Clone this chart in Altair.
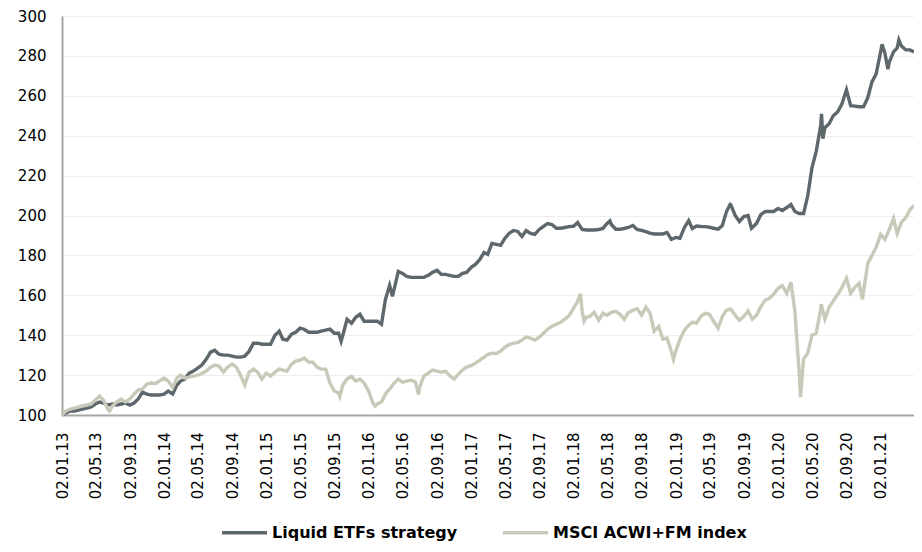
import altair as alt
import pandas as pd

# ---- series names / colours ----
series_names = ["Liquid ETFs strategy", "MSCI ACWI+FM index"]
series_colors = ["#5d676c", "#c8c9b9"]

strategy_2013 = [100, 101, 102, 102, 102.5, 103, 103.5, 104, 105.5, 106.5, 106, 105,
                 105.5, 105, 105.5, 106, 105, 106, 108, 111.5, 110.5, 110, 110, 110]
strategy_2014 = [110.5, 112, 110.5, 115, 117, 118, 121, 122, 123.5, 125, 128, 131.5,
                 132.5, 130.5, 130, 130, 129.5, 129, 129, 129.5, 132, 136, 136, 135.5]
strategy_2015 = [135.5, 135.5, 140, 142, 138, 137.5, 140.5, 141.5, 143.5, 143, 141.5, 141.5,
                 141.5, 142, 142.5, 143, 141, 141, 140, 148, 146, 149, 150.5, 147]
strategy_2016 = [147, 147, 147, 145.5, 158, 165, 163, 172, 171, 169.5, 169, 169,
                 169, 169, 170, 171.5, 172.5, 170.5, 170.5, 170, 169.5, 169.5, 171, 171.5]
strategy_2017 = [174, 175.5, 178, 181.5, 180.5, 186, 185.5, 185, 188.5, 191, 192.5, 192,
                 189.5, 192.5, 191, 190.5, 193, 194.5, 196, 195.5, 193.6, 193.6, 194, 194.4]
strategy_2018 = [194.6, 196.5, 193, 192.75, 192.75, 192.75, 193, 193.5, 196, 195.5, 193.1, 193.1,
                 193.5, 194, 195, 193, 192.5, 191.9, 191.2, 190.75, 190.75, 190.75, 191.5, 188]
strategy_2019 = [189, 188.6, 194, 197.4, 193.5, 194.75, 194.5, 194.4, 194.1, 193.6, 193.1, 195,
                 202, 205.5, 200, 197, 199.5, 200, 194, 196, 200.5, 202, 202, 202]
strategy_2020 = [203.5, 202.5, 204, 205.5, 202, 201, 201, 210, 224, 232, 245, 244,
                 246, 250, 252, 256, 263, 255, 254.8, 254.5, 254.5, 259, 267, 271]
strategy_2021 = [282, 281.5, 277, 282, 284, 285, 283, 283, 282]

msci_2013 = [100, 102, 103, 103.5, 104, 104.5, 105, 105.5, 107.5, 109.5, 107, 102.5,
             104.5, 106.5, 108, 106.5, 108, 110.5, 112.5, 113, 115.5, 116, 115.8, 117]
msci_2014 = [118.5, 117, 113.8, 118.5, 120, 118.5, 119, 119.5, 120, 120.8, 122, 124,
             125, 124.5, 121.5, 124, 125.5, 124, 120, 115, 121.5, 123, 121.5, 118]
msci_2015 = [121, 119.5, 121.5, 123, 122.5, 122, 125.5, 127, 127.5, 128.5, 126.5, 126.5,
             124, 123, 123, 116, 112, 111, 115, 118, 119.4, 117, 118, 116]
msci_2016 = [112, 106, 105.5, 106.5, 110.5, 113, 116, 118, 116.5, 117, 117.5, 116.5,
             114, 119.5, 121, 122.5, 122, 121.4, 122, 119.75, 118, 120.5, 122.5, 124]
msci_2017 = [124.75, 126, 127.5, 129, 130.3, 131, 130.8, 132, 134, 135.25, 136, 136.3,
             137.5, 139, 138.5, 137.6, 139, 141, 143, 144.5, 145.5, 146.5, 148, 149.75]
msci_2018 = [153.5, 157, 152, 149, 149.5, 151.5, 147.5, 151, 150, 151.5, 152, 150.5,
             148, 151.4, 152.5, 153.3, 150, 154, 151.1, 142, 144.4, 138, 138.6, 132]
msci_2019 = [132, 138, 142.5, 145, 146.5, 146.1, 149.5, 151, 150.5, 147, 143.5, 149.4,
             152.5, 153.1, 150, 147.5, 149.4, 152.2, 148, 150, 154.5, 157.5, 158.5, 160.5]
msci_2020 = [163.5, 164.8, 161, 166.5, 152, 122, 128, 131, 140, 141, 153, 148,
             154, 157.2, 160.5, 164, 168.5, 161, 164, 166, 162, 176, 180, 184]
msci_2021 = [190.5, 188, 193, 198.5, 191, 196.5, 199, 203, 205]

# ---- extra turning points ----
strategy_extra = [("2015-09-25", 137), ("2016-03-26", 159.5), ("2018-05-11", 197.3),
                  ("2019-07-14", 205.6), ("2019-09-28", 193.6), ("2020-06-04", 251),
                  ("2020-06-09", 238.5), ("2021-01-06", 285.8), ("2021-01-27", 273.4),
                  ("2021-03-07", 288)]
msci_extra = [("2013-06-21", 101.9), ("2015-09-20", 109.4), ("2016-01-24", 104.4),
              ("2016-06-27", 110.3), ("2018-01-26", 160.7), ("2018-02-08", 147),
              ("2018-12-24", 127.8), ("2020-03-21", 109), ("2020-06-03", 155.6),
              ("2020-10-28", 158)]

# ---- dates of the semi-monthly grid ----
grid_dates = []
for yr in range(2013, 2022):
    for mo in range(1, 13):
        if yr == 2021 and mo > 4:
            break
        grid_dates.append(f"{yr}-{mo:02d}-{'02' if (yr, mo) == (2013, 1) else '01'}")
        grid_dates.append(f"{yr}-{mo:02d}-16")
grid_dates.append("2021-04-30")

strategy_vals = (strategy_2013 + strategy_2014 + strategy_2015 + strategy_2016 + strategy_2017
                 + strategy_2018 + strategy_2019 + strategy_2020 + strategy_2021)
msci_vals = (msci_2013 + msci_2014 + msci_2015 + msci_2016 + msci_2017
             + msci_2018 + msci_2019 + msci_2020 + msci_2021)


def build(vals, extra, name):
    d = pd.DataFrame({"date": grid_dates, "value": vals})
    e = pd.DataFrame(extra, columns=["date", "value"])
    d = pd.concat([d, e]).sort_values("date").reset_index(drop=True)
    d["series"] = name
    return d


df_s = build(strategy_vals, strategy_extra, series_names[0])
df_m = build(msci_vals, msci_extra, series_names[1])

tick_dates = [alt.DateTime(year=y, month=m, date=2, utc=True)
              for y in range(2013, 2022) for m in (1, 5, 9)
              if not (y == 2021 and m > 1)]

x_enc = alt.X(
    "date:T",
    scale=alt.Scale(domain=[alt.DateTime(year=2013, month=1, date=2, utc=True),
                            alt.DateTime(year=2021, month=4, date=30, utc=True)]),
    axis=alt.Axis(values=tick_dates, labelExpr="utcFormat(datum.value, '%d.%m.%y')",
                  labelAngle=270, labelFontSize=15, labelColor="#000000",
                  labelPadding=17, ticks=False, grid=False, title=None,
                  domainColor="#a6a6a6", domainWidth=2, labelFlush=False,
                  labelOverlap=False),
)
y_enc = alt.Y(
    "value:Q",
    scale=alt.Scale(domain=[100, 300], nice=False, zero=False),
    axis=alt.Axis(values=list(range(100, 301, 20)), labelFontSize=15,
                  labelColor="#000000", labelPadding=16, ticks=False, title=None,
                  domainColor="#a6a6a6", domainWidth=2, gridColor="#dcdcdc",
                  gridDash=[1, 1], gridWidth=1),
)
color_enc = alt.Color(
    "series:N",
    scale=alt.Scale(domain=series_names, range=series_colors),
    legend=alt.Legend(orient="none", legendX=158, legendY=492, direction="horizontal",
                      title=None, symbolType="stroke", symbolSize=2025,
                      symbolStrokeWidth=3.5, labelFontSize=16, labelFontWeight="bold",
                      labelColor="#000000", labelOffset=3, columnPadding=38,
                      padding=0, labelLimit=400),
)

line_s = alt.Chart(df_s).mark_line(strokeWidth=3.4).encode(x=x_enc, y=y_enc, color=color_enc)
line_m = alt.Chart(df_m).mark_line(strokeWidth=3.4).encode(x=x_enc, y=y_enc, color=color_enc)

chart = alt.layer(line_s, line_m).properties(
    width=852, height=399,
    autosize=alt.AutoSizeParams(type="none"),
    padding={"left": 54, "top": 8, "right": 0, "bottom": 129},
).configure(font="DejaVu Sans").configure_view(stroke=None)

chart.save("out.html", embed_options={"renderer": "svg", "actions": False})
